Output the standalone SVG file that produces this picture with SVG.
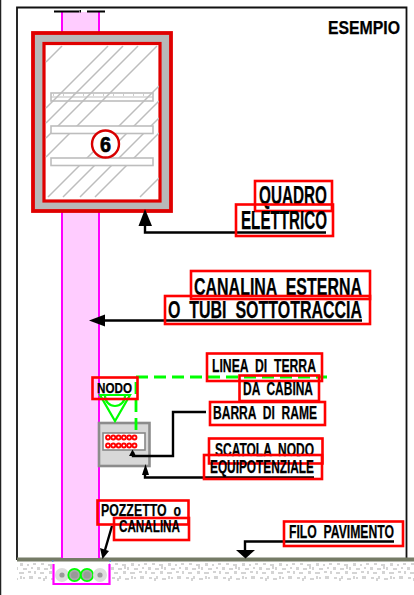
<svg xmlns="http://www.w3.org/2000/svg" width="414" height="595" viewBox="0 0 414 595">
<style>
text{font-family:"Liberation Sans Narrow","Liberation Sans",Arial,sans-serif;font-weight:700;fill:#000;stroke:#000;stroke-width:.25}
.box{fill:none;stroke:#f00;stroke-width:2.6}
.ln{fill:none;stroke:#000;stroke-width:2.4}
.hatch{stroke:#bdbdbd;stroke-width:1.5;fill:none}
.shelf{fill:#fff;stroke:#bdbdbd;stroke-width:1.6}
.mag{stroke:#f0f;stroke-width:2;fill:none}
.gd{fill:none;stroke:#0f0;stroke-width:2.200}
.dot{fill:#fff;stroke:#f00;stroke-width:1.800}
.stone{fill:#ddd}
</style>
<defs>
<clipPath id="inner"><rect x="45" y="44" width="114" height="156"/></clipPath>
<pattern id="speck" width="37" height="18" patternUnits="userSpaceOnUse">
<path d="M1 1h3v2h-3zM6 2h2v3h-2zM8 0h2v3h-2zM14 2h4v2h-4zM20 0h2v3h-2zM23 1h2v2h-2zM29 0h4v3h-4zM4 5h3v2h-3zM11 6h4v2h-4zM20 5h3v3h-3zM27 6h2v2h-2zM33 5h3v2h-3zM0 9h3v3h-3zM7 10h4v2h-4zM13 8h2v3h-2zM16 9h2v3h-2zM23 10h4v2h-4zM31 9h2v2h-2zM3 14h4v2h-4zM12 13h3v3h-3zM19 14h5v2h-5zM28 13h3v2h-3zM34 13h2v3h-2z" fill="#d4d4d4"/>
</pattern>
</defs>
<rect width="414" height="595" fill="#fff"/>
<g id="frame">
<path d="M0.500 0V595" stroke="#222" stroke-width="1.500" fill="none"/>
<path d="M17 560V7.500H406.500V560" stroke="#111" stroke-width="1.800" fill="none"/>
<text x="328" y="33.500" font-size="18" textLength="72" lengthAdjust="spacingAndGlyphs">ESEMPIO</text>
</g>
<g id="ground">
<rect x="17" y="563" width="397" height="18" fill="url(#speck)"/>
<rect x="17" y="557.500" width="397" height="4" fill="#757b66"/>
</g>
<g id="canalina-tube">
<rect x="62" y="12" width="37" height="546" fill="#fcf"/>
<path class="mag" d="M62 12V558M99 12V558"/>
<path d="M54 11.500H79M87 11.500H105" stroke="#000" stroke-width="1.800" fill="none"/>
<rect x="79.500" y="10" width="1.500" height="2.500" fill="#000"/>
</g>
<g id="quadro">
<rect x="33" y="33" width="138" height="178" fill="#b8b8b8" stroke="#e00000" stroke-width="3.800"/>
<rect x="44" y="43.500" width="116" height="157.500" fill="#fff" stroke="#e00000" stroke-width="3.200"/>
<path clip-path="url(#inner)" class="hatch" d="M46 62L62 46M46 108L108 46M46 123L123 46M46 138L138 46M46 157L157 46M48 197L159 86M63 197L159 101M80 197L159 118M95 197L159 133M140 197L159 178"/>
<rect class="shelf" x="51" y="93" width="102" height="8" fill-opacity="0"/>
<path d="M51 97H153" stroke="#bdbdbd" stroke-width="1.200" fill="none"/>
<path d="M53 95H152" stroke="#bdbdbd" stroke-width="1.500" stroke-dasharray="1 9" fill="none"/>
<rect class="shelf" x="51" y="126" width="102" height="7.500"/>
<rect class="shelf" x="51" y="158" width="102" height="7.500"/>
<circle cx="105.500" cy="144" r="13.500" fill="#fff" stroke="#d80000" stroke-width="2.400"/>
<text x="105.500" y="152" font-size="22" text-anchor="middle" textLength="11" lengthAdjust="spacingAndGlyphs" style="stroke-width:.7">6</text>
</g>
<g id="nodo-box">
<rect x="99" y="423" width="50.500" height="43" fill="#d8d8d8" stroke="#8c8c8c" stroke-width="2.600"/>
<rect x="103" y="433" width="42" height="17" fill="#fff" stroke="#888" stroke-width="1.600"/>
<g>
<circle class="dot" cx="108" cy="437.500" r="2"/><circle class="dot" cx="113.300" cy="437.500" r="2"/><circle class="dot" cx="118.600" cy="437.500" r="2"/><circle class="dot" cx="123.900" cy="437.500" r="2"/><circle class="dot" cx="129.200" cy="437.500" r="2"/><circle class="dot" cx="134.500" cy="437.500" r="2"/>
<circle class="dot" cx="108" cy="445.500" r="2"/><circle class="dot" cx="113.300" cy="445.500" r="2"/><circle class="dot" cx="118.600" cy="445.500" r="2"/><circle class="dot" cx="123.900" cy="445.500" r="2"/><circle class="dot" cx="129.200" cy="445.500" r="2"/><circle class="dot" cx="134.500" cy="445.500" r="2"/>
</g>
</g>
<g id="terra-symbol">
<path class="gd" d="M100 395H130L115 421Z"/>
<path class="gd" d="M105 396A10 10 0 0 0 125 396"/>
</g>
<g id="pozzetto">
<rect x="54" y="563" width="55" height="21" fill="#fff"/>
<circle class="stone" cx="62" cy="575" r="7"/><circle cx="62" cy="575" r="2.600" fill="#999"/>
<circle cx="74.500" cy="575" r="6.200" fill="#aaa" stroke="#0f0" stroke-width="1.800"/><circle cx="74.500" cy="575" r="3.500" fill="#999"/>
<circle cx="87" cy="575" r="6.200" fill="#aaa" stroke="#0f0" stroke-width="1.800"/><circle cx="87" cy="575" r="3.500" fill="#999"/>
<circle class="stone" cx="100" cy="575" r="7"/><circle cx="100" cy="575" r="2.600" fill="#999"/>
<path d="M53.500 564V584H109.500V564" stroke="#f0f" stroke-width="2.200" fill="none"/>
<path d="M52 561h1.500M109.500 561h1.500" stroke="#4a90d9" stroke-width="1.500" fill="none"/>
</g>
<g id="connectors">
<path d="M136 377H327M136 382V435" fill="none" stroke="#0f0" stroke-width="2.800" stroke-dasharray="12 6"/>
<path class="ln" d="M145 222V232.500H326"/>
<path d="M145 209L152 226H138.500Z" fill="#000"/>
<path class="ln" d="M100 320.500H362"/>
<path d="M89 320.500L105 314.500V326.500Z" fill="#000"/>
<path class="ln" d="M206 412H173V456H133V452"/>
<path d="M132.500 449.500L136 456H129Z" fill="#000"/>
<path class="ln" d="M145 471V477.500H314"/>
<path d="M145.500 464L149 475H142Z" fill="#000"/>
<path class="ln" d="M112 526L105 550"/>
<path d="M102.500 559L100 548L109 551Z" fill="#000"/>
<path class="ln" d="M245 550V541.500H394"/>
<path d="M245.500 558.500L236 550H255Z" fill="#000"/>
</g>
<g id="label-quadro">
<rect class="box" x="255" y="181" width="77" height="30"/>
<text x="259" y="203.500" font-size="25" textLength="68" lengthAdjust="spacingAndGlyphs">QUADRO</text>
</g>
<g id="label-elettrico">
<rect class="box" x="236" y="204.500" width="97" height="31.500"/>
<text x="241" y="228.500" font-size="25" textLength="86" lengthAdjust="spacingAndGlyphs">ELETTRICO</text>
</g>
<g id="label-canalina-esterna">
<rect class="box" x="191" y="271" width="179" height="28"/>
<text x="194" y="294.500" font-size="23" textLength="168" lengthAdjust="spacingAndGlyphs" xml:space="preserve">CANALINA  ESTERNA</text>
</g>
<g id="label-tubi">
<rect class="box" x="165" y="296" width="205" height="28"/>
<text x="168" y="317.500" font-size="23" textLength="194" lengthAdjust="spacingAndGlyphs" xml:space="preserve">O  TUBI  SOTTOTRACCIA</text>
</g>
<g id="label-nodo">
<rect class="box" x="92.500" y="377.500" width="45" height="21.500"/>
<text x="97" y="392.500" font-size="15" textLength="35" lengthAdjust="spacingAndGlyphs">NODO</text>
</g>
<g id="label-linea">
<rect class="box" x="207" y="353.500" width="115" height="27.500"/>
<text x="212" y="372" font-size="18" textLength="104" lengthAdjust="spacingAndGlyphs" xml:space="preserve">LINEA  DI  TERRA</text>
</g>
<g id="label-cabina">
<rect class="box" x="239.500" y="375.500" width="79.500" height="25.500"/>
<text x="243" y="395" font-size="18" textLength="70" lengthAdjust="spacingAndGlyphs" xml:space="preserve">DA  CABINA</text>
</g>
<g id="label-barra">
<rect class="box" x="210" y="402" width="115" height="23"/>
<text x="213" y="419" font-size="18" textLength="104" lengthAdjust="spacingAndGlyphs" xml:space="preserve">BARRA  DI  RAME</text>
</g>
<g id="label-scatola">
<rect class="box" x="209" y="438.500" width="113.500" height="25"/>
<text x="215" y="456" font-size="18" textLength="99" lengthAdjust="spacingAndGlyphs" xml:space="preserve">SCATOLA  NODO</text>
</g>
<g id="label-equipotenziale">
<rect class="box" x="204" y="455" width="118" height="24"/>
<text x="210" y="473" font-size="18" textLength="104" lengthAdjust="spacingAndGlyphs">EQUIPOTENZIALE</text>
</g>
<g id="label-pozzetto">
<rect class="box" x="97.500" y="500.500" width="91" height="24"/>
<text x="101" y="516" font-size="17" textLength="80" lengthAdjust="spacingAndGlyphs" xml:space="preserve">POZZETTO  o</text>
</g>
<g id="label-canalina">
<rect class="box" x="114" y="518" width="75" height="22"/>
<text x="119" y="532" font-size="17" textLength="61" lengthAdjust="spacingAndGlyphs">CANALINA</text>
</g>
<g id="label-filo">
<rect class="box" x="284" y="521.500" width="119" height="24.500"/>
<text x="289" y="538" font-size="18" textLength="105" lengthAdjust="spacingAndGlyphs" xml:space="preserve">FILO  PAVIMENTO</text>
</g>
</svg>
